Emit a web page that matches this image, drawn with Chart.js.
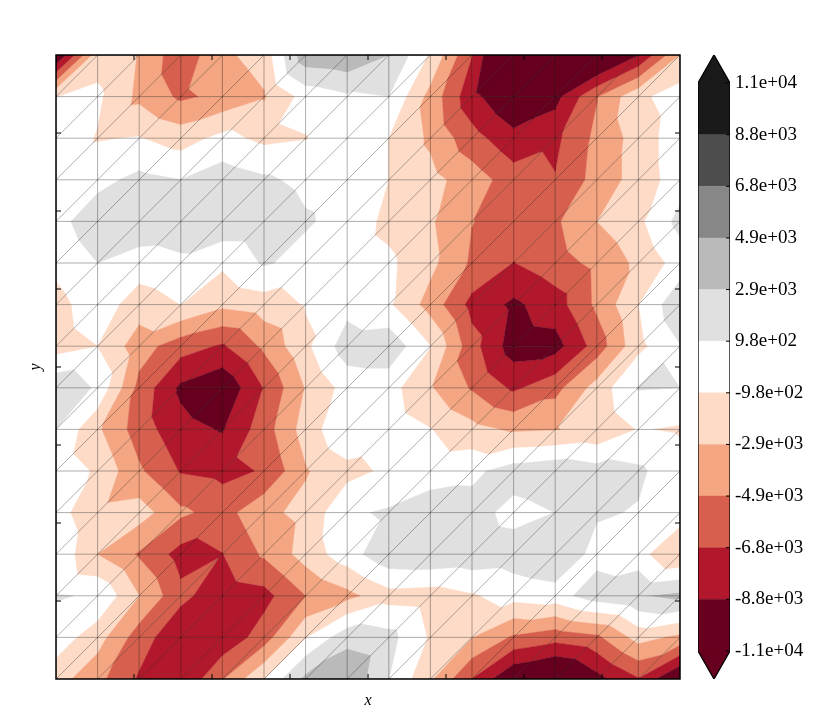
<!DOCTYPE html>
<html>
<head>
<meta charset="utf-8">
<title>tricontour</title>
<script src="https://cdn.jsdelivr.net/npm/chart.js@4"></script>
<style>
  body { margin: 0; background: #fff; }
  #wrap { position: relative; width: 830px; height: 727px; }
  canvas { position: absolute; top: 0; }
</style>
</head>
<body>
<div id="wrap">
  <canvas id="field" width="830" height="727" style="left:0"></canvas>
  <canvas id="cbar" width="140" height="727" style="left:690px"></canvas>
</div>
<script>
// ---------------------------
// DATA (values on the 16 x 16 mesh, top row first)
// ---------------------------
const z0 = [-11000,-1700,-3100,-6200,-3350,-2100,4300,4600,3000,-1200,-6800,-14200,-14000,-12500,-8900,-2900];
const z1 = [-1000,-600,-3400,-5250,-4400,-3100,-200,700,980,-3600,-8200,-10800,-9500,-5000,-1400,0];
const z2 = [200,-1100,-850,-1800,-400,-1400,-1050,100,-980,-3300,-6100,-8200,-7300,-4400,-2100,250];
const z3 = [100,400,1500,1000,2050,1300,500,200,-980,-2300,-3900,-5900,-6750,-4150,-2100,50];
const z4 = [300,2200,2500,2300,2400,2400,1200,300,-1500,-2700,-4850,-5600,-5200,-2940,-1400,1600];
const z5 = [-500,980,0,560,-600,1200,300,100,-600,-2400,-5200,-6900,-5700,-4400,-2500,-100];
const z6 = [-1600,100,-1940,-950,-2480,-1900,-850,300,-700,-3700,-7500,-9200,-7760,-4500,-1000,2500];
const z7 = [-1800,-980,-4000,-6000,-7100,-4500,-1400,2000,2300,-900,-6100,-9800,-9570,-6000,-1500,900];
const z8 = [2500,700,-5500,-9200,-10450,-6750,-2800,-200,-200,-2750,-5100,-7200,-5550,-2110,1100,980];
const z9 = [980,-2600,-5850,-8200,-8950,-5800,-2060,800,200,-900,-2300,-3200,-3000,-2500,-850,-1200];
const z10 = [200,-1240,-4600,-7000,-7400,-6700,-3100,-1600,-600,200,500,1900,2400,1700,1300,-200];
const z11 = [-200,-2400,-2030,-4500,-5700,-3400,-2400,700,1200,1900,1800,300,1000,1200,850,100];
const z12 = [670,-2940,-5100,-7600,-6900,-4600,-2100,100,2400,2600,2300,2000,2600,300,-200,-3050];
const z13 = [1130,760,-2900,-6350,-8000,-7500,-4900,-3500,-1700,-1900,-1150,-200,200,2000,2800,3500];
const z14 = [140,-2100,-5900,-8400,-8300,-5900,-1050,2300,1630,-1200,-2900,-5200,-6100,-5300,-2200,-3400];
const z15 = [-2100,-4300,-7100,-8700,-5000,-980,3500,4700,1000,-2600,-6900,-10800,-12100,-9500,-7000,-11300];
const zRows = [z0,z1,z2,z3,z4,z5,z6,z7,z8,z9,z10,z11,z12,z13,z14,z15];

const levels = [-10780,-8820,-6860,-4900,-2940,-980,980,2940,4900,6860,8820,10780];
const levelLabels = ["-1.1e+04","-8.8e+03","-6.8e+03","-4.9e+03","-2.9e+03","-9.8e+02","9.8e+02","2.9e+03","4.9e+03","6.8e+03","8.8e+03","1.1e+04"];
const bandColors = ["#67001f","#b2182b","#d6604d","#f4a582","#fddbc7","#ffffff","#e0e0e0","#bababa","#878787","#4d4d4d","#1a1a1a"];
const frameTicks = [1.875,3.75,5.625,7.5,9.375,11.25,13.125];
const cbarTip = 1065;

// ---------------------------
// CONTOUR HELPERS
// ---------------------------
// cut a polygon of {x,y,v} points, keeping the side where sign*(v-limit) >= 0
function cutPoly(poly, limit, sign) {
  let out = [];
  for (let i = 0; i < poly.length; i++) {
    let a = poly[i], b = poly[(i + 1) % poly.length];
    let da = sign * (a.v - limit), db = sign * (b.v - limit);
    if (da >= 0) out.push(a);
    if ((da >= 0) !== (db >= 0)) {
      let t = da / (da - db);
      out.push({ x: a.x + (b.x - a.x) * t, y: a.y + (b.y - a.y) * t, v: limit });
    }
  }
  return out;
}

function polyDataset(points, color) {
  let closed = points.map(p => ({ x: p.x, y: p.y }));
  closed.push({ x: points[0].x, y: points[0].y });
  return {
    data: closed, showLine: true, fill: "shape", backgroundColor: color,
    borderColor: color, borderWidth: 0.4, pointRadius: 0, tension: 0
  };
}

// the long dash keeps Chart.js off its fast path, which retraces vertical lines
function lineDataset(points) {
  return {
    data: points, showLine: true, fill: false, borderColor: "rgba(0,0,0,0.32)",
    borderWidth: 1, borderDash: [2000, 1], pointRadius: 0, tension: 0
  };
}

// mesh lines go first so they are painted last
let fieldSets = [];
for (let k = 0; k < 16; k++) {
  fieldSets.push(lineDataset([{ x: k, y: 0 }, { x: k, y: 15 }]));
  fieldSets.push(lineDataset([{ x: 0, y: k }, { x: 15, y: k }]));
}
for (let k = 1; k <= 30; k++) {
  let a = Math.max(0, k - 15), b = Math.min(15, k);
  fieldSets.push(lineDataset([{ x: a, y: k - a }, { x: b, y: k - b }]));
}

// every mesh cell is split by its diagonal, every triangle is cut per band
function addTriangle(tri) {
  for (let b = 0; b < bandColors.length; b++) {
    if (bandColors[b] === "#ffffff") continue;
    let poly = tri;
    if (b > 0) poly = cutPoly(poly, levels[b], 1);
    if (poly.length && b < bandColors.length - 1) poly = cutPoly(poly, levels[b + 1], -1);
    if (poly.length > 2) fieldSets.push(polyDataset(poly, bandColors[b]));
  }
}
for (let j = 0; j < 15; j++) {
  for (let i = 0; i < 15; i++) {
    let tl = { x: i, y: j, v: zRows[j][i] };
    let tr = { x: i + 1, y: j, v: zRows[j][i + 1] };
    let bl = { x: i, y: j + 1, v: zRows[j + 1][i] };
    let br = { x: i + 1, y: j + 1, v: zRows[j + 1][i + 1] };
    addTriangle([tl, tr, bl]);
    addTriangle([tr, br, bl]);
  }
}

// ---------------------------
// FRAME AND INNER TICKS
// ---------------------------
const framePlugin = {
  id: "frame",
  afterDraw(chart) {
    let c = chart.ctx, a = chart.chartArea;
    c.save();
    c.strokeStyle = "#000";
    c.lineWidth = 1;
    c.beginPath();
    frameTicks.forEach(t => {
      let px = chart.scales.x.getPixelForValue(t), py = chart.scales.y.getPixelForValue(t);
      c.moveTo(px, a.top); c.lineTo(px, a.top + 5);
      c.moveTo(px, a.bottom); c.lineTo(px, a.bottom - 5);
      c.moveTo(a.left, py); c.lineTo(a.left + 5, py);
      c.moveTo(a.right, py); c.lineTo(a.right - 5, py);
    });
    c.stroke();
    c.lineWidth = 1.5;
    c.strokeRect(a.left, a.top, a.right - a.left, a.bottom - a.top);
    c.restore();
  }
};

new Chart(document.getElementById("field"), {
  type: "scatter",
  data: { datasets: fieldSets },
  plugins: [framePlugin],
  options: {
    responsive: false,
    animation: false,
    events: [],
    layout: { padding: { top: 55, right: 150, left: 0, bottom: 0 } },
    plugins: { legend: { display: false }, tooltip: { enabled: false } },
    scales: {
      x: {
        type: "linear", min: 0, max: 15,
        ticks: { display: false },
        grid: { display: false },
        border: { display: false },
        title: { display: true, text: "x", color: "#000", padding: { top: 0, bottom: 17 }, font: { family: "Liberation Serif", size: 16, style: "italic" } },
        afterFit(s) { s.height = 48; }
      },
      y: {
        type: "linear", min: 0, max: 15, reverse: true,
        ticks: { display: false },
        grid: { display: false },
        border: { display: false },
        title: { display: true, text: "y", color: "#000", padding: { top: 26, bottom: 0 }, font: { family: "Liberation Serif", size: 16, style: "italic" } },
        afterFit(s) { s.width = 56; }
      }
    }
  }
});

// ---------------------------
// COLORBAR
// ---------------------------
const last = levels.length - 1;
let cbarSets = [];
let edge = [
  { x: 0, y: levels[0] }, { x: 0.5, y: levels[0] - cbarTip }, { x: 1, y: levels[0] },
  { x: 1, y: levels[last] }, { x: 0.5, y: levels[last] + cbarTip }, { x: 0, y: levels[last] }, { x: 0, y: levels[0] }
];
cbarSets.push({ data: edge, showLine: true, fill: false, borderColor: "#000", borderWidth: 1.3, pointRadius: 0, tension: 0 });
cbarSets.push(polyDataset([{ x: 0, y: levels[0] }, { x: 0.5, y: levels[0] - cbarTip }, { x: 1, y: levels[0] }], bandColors[0]));
cbarSets.push(polyDataset([{ x: 0, y: levels[last] }, { x: 0.5, y: levels[last] + cbarTip }, { x: 1, y: levels[last] }], bandColors[bandColors.length - 1]));
bandColors.forEach((color, b) => {
  cbarSets.push(polyDataset([
    { x: 0, y: levels[b] }, { x: 1, y: levels[b] }, { x: 1, y: levels[b + 1] }, { x: 0, y: levels[b + 1] }
  ], color));
});

const cbarTicksPlugin = {
  id: "cbarTicks",
  afterDraw(chart) {
    let c = chart.ctx, a = chart.chartArea;
    c.save();
    c.strokeStyle = "#000";
    c.lineWidth = 1;
    c.beginPath();
    levels.forEach(v => {
      let py = chart.scales.y.getPixelForValue(v);
      c.moveTo(a.right, py); c.lineTo(a.right - 4, py);
    });
    c.stroke();
    c.restore();
  }
};

new Chart(document.getElementById("cbar"), {
  type: "scatter",
  data: { datasets: cbarSets },
  plugins: [cbarTicksPlugin],
  options: {
    responsive: false,
    animation: false,
    events: [],
    layout: { padding: { top: 55, bottom: 48, left: 8, right: 0 } },
    plugins: { legend: { display: false }, tooltip: { enabled: false } },
    scales: {
      x: { type: "linear", min: 0, max: 1, display: false },
      y: {
        type: "linear", position: "right",
        min: levels[0] - cbarTip, max: levels[last] + cbarTip,
        afterBuildTicks(s) { s.ticks = levels.map(v => ({ value: v })); },
        grid: { display: false, drawTicks: false, tickLength: 0 },
        border: { display: false },
        ticks: {
          autoSkip: false, padding: 5, color: "#000",
          font: { family: "Liberation Serif", size: 19 },
          callback: (v) => levelLabels[levels.indexOf(v)]
        },
        afterFit(s) { s.width = 100; }
      }
    }
  }
});
</script>
</body>
</html>
